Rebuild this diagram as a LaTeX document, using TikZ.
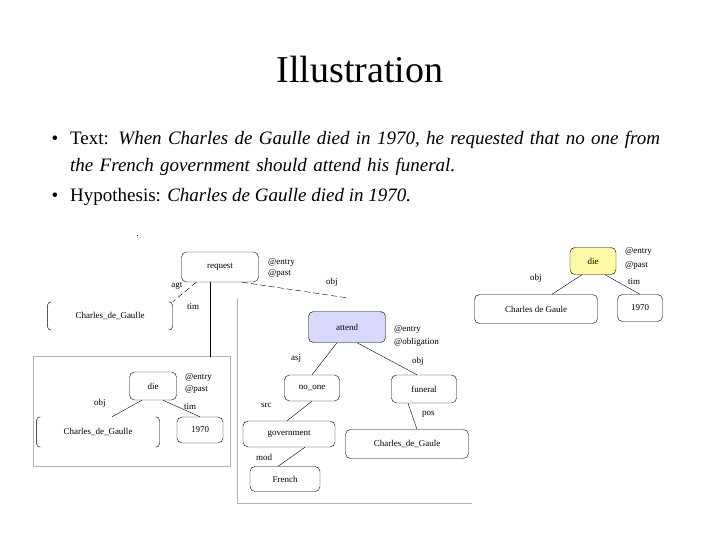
\documentclass[tikz,border=0pt]{standalone}
\usepackage{fontspec}
\setmainfont{Liberation Serif}
\usetikzlibrary{positioning, calc}
\tikzset{
  box/.style={draw, thin, rounded corners=5pt, inner sep=0pt, font=\fontsize{9}{10}\selectfont},
  br/.style={inner sep=0pt, font=\fontsize{9}{10}\selectfont},
  lab/.style={inner sep=0pt, anchor=west, font=\fontsize{9}{10}\selectfont, align=left},
  rel/.style={thin, dashed, dash pattern=on 6pt off 3pt},
  frame/.style={draw=black!30, thin}
}
\newcommand{\brk}[1]{%
  \draw[rounded corners=4pt] ($(#1.north west)+(4,0)$) -- (#1.north west) -- (#1.south west) -- ++(4,0);
  \draw[rounded corners=4pt] ($(#1.north east)+(-4,0)$) -- (#1.north east) -- (#1.south east) -- ++(-4,0);}
\begin{document}
\begin{tikzpicture}[x=1pt, y=-1pt]
\useasboundingbox[fill=white] (0,0) rectangle (720,540);
% --- title and bullets ---
\node[font=\fontsize{38}{40}\selectfont] (title) at (360,70) {Illustration};
\node[lab, font=\fontsize{19}{27}\selectfont, text width=610pt, align=left, anchor=north west] (txt) at (70,131)
  {\llap{\textbullet\hspace{12pt}}Text: \textit{When Charles de Gaulle died in 1970, he requested that no one from the French government should attend his funeral.}};
\node[lab, font=\fontsize{19}{27}\selectfont, anchor=north west] (hyp) at (70,188)
  {\llap{\textbullet\hspace{12pt}}Hypothesis: \textit{Charles de Gaulle died in 1970.}};
\node[inner sep=0.4pt, fill=black] (dot) at (137,235) {};

% --- gray frames ---
\draw[frame] (33,356) rectangle (230,466);
\draw[frame] (237,298) -- (237,503) -- (472,503);

% --- text tree ---
\node[box, minimum width=77, minimum height=30] (req) at (220,267) {request};
\node[lab] (reqa) at (268,262) {@entry};
\node[lab] (reqb) at (268,273) {@past};
\node[br, minimum width=125, minimum height=28] (cdg1) at (110,316) {Charles\_de\_Gaulle};
\brk{cdg1}
\node[box, minimum width=47, minimum height=28] (die1) at (153,386) {die};
\node[lab] (diea) at (185,377) {@entry};
\node[lab] (dieb) at (185,389) {@past};
\node[br, minimum width=123, minimum height=30] (cdg2) at (98,432) {Charles\_de\_Gaulle};
\brk{cdg2}
\node[box, minimum width=46, minimum height=26] (y1) at (200,430) {1970};
\node[box, minimum width=77, minimum height=31, fill=blue!15] (att) at (347,327) {attend};
\node[lab] (atta) at (394,329) {@entry};
\node[lab] (attb) at (394,342) {@obligation};
\node[box, minimum width=55, minimum height=26] (no) at (312,388) {no\_one};
\node[box, minimum width=65, minimum height=28] (fun) at (424,389) {funeral};
\node[box, minimum width=92, minimum height=26] (gov) at (289,434) {government};
\node[box, minimum width=70, minimum height=25] (fr) at (285,479) {French};
\node[box, minimum width=123, minimum height=29] (cdg3) at (407,444) {Charles\_de\_Gaule};
\coordinate (tend) at (210,357);

\draw[rel] (req.south west) ++(15,0) -- (cdg1.north east) node[midway, above left=-2pt] {\fontsize{9}{10}\selectfont agt};
\draw[semithick] (req.south -| tend) -- (tend);
\node[lab] (timl) at (187,307) {tim};
\draw[rel] ($(req.south)+(22,0)$) -- (348,298);
\node[lab] (objl) at (326,282) {obj};
\draw[thin] ($(die1.south)+(-11,0)$) -- ($(cdg2.north)+(14,0)$);
\node[lab] (obj2) at (94,403) {obj};
\draw[thin] ($(die1.south)+(10,0)$) -- (y1.north);
\node[lab] (tim2) at (184,407) {tim};
\draw[thin] ($(att.south)+(-10,0)$) -- (no.north);
\node[lab] (asj) at (291,358) {asj};
\draw[thin] ($(att.south)+(10,0)$) -- ($(fun.north)+(-7,0)$);
\node[lab] (obj3) at (412,361) {obj};
\draw[thin] (no.south) -- ($(gov.north)+(-2,0)$);
\node[lab] (src) at (261,405) {src};
\draw[thin] ($(gov.south)+(16,0)$) -- ($(fr.north)+(-7,0)$);
\node[lab] (mod) at (256,457) {mod};
\draw[thin] ($(fun.south)+(-16,0)$) -- ($(cdg3.north)+(10,0)$);
\node[lab] (pos) at (422,414) {pos};

% --- hypothesis tree ---
\node[box, minimum width=46, minimum height=27, fill=yellow!35] (die2) at (593,261) {die};
\node[lab] (d2a) at (625,251) {@entry};
\node[lab] (d2b) at (625,265) {@past};
\node[box, minimum width=123, minimum height=29] (cdg4) at (536,309) {Charles de Gaule};
\node[box, minimum width=45, minimum height=27] (y2) at (640,308) {1970};
\draw[thin] ($(die2.south)+(-11,0)$) -- ($(cdg4.north)+(16,0)$);
\node[lab] (obj4) at (530,278) {obj};
\draw[thin] ($(die2.south)+(12,0)$) -- (y2.north);
\node[lab] (tim3) at (628,282) {tim};
\end{tikzpicture}
\end{document}
